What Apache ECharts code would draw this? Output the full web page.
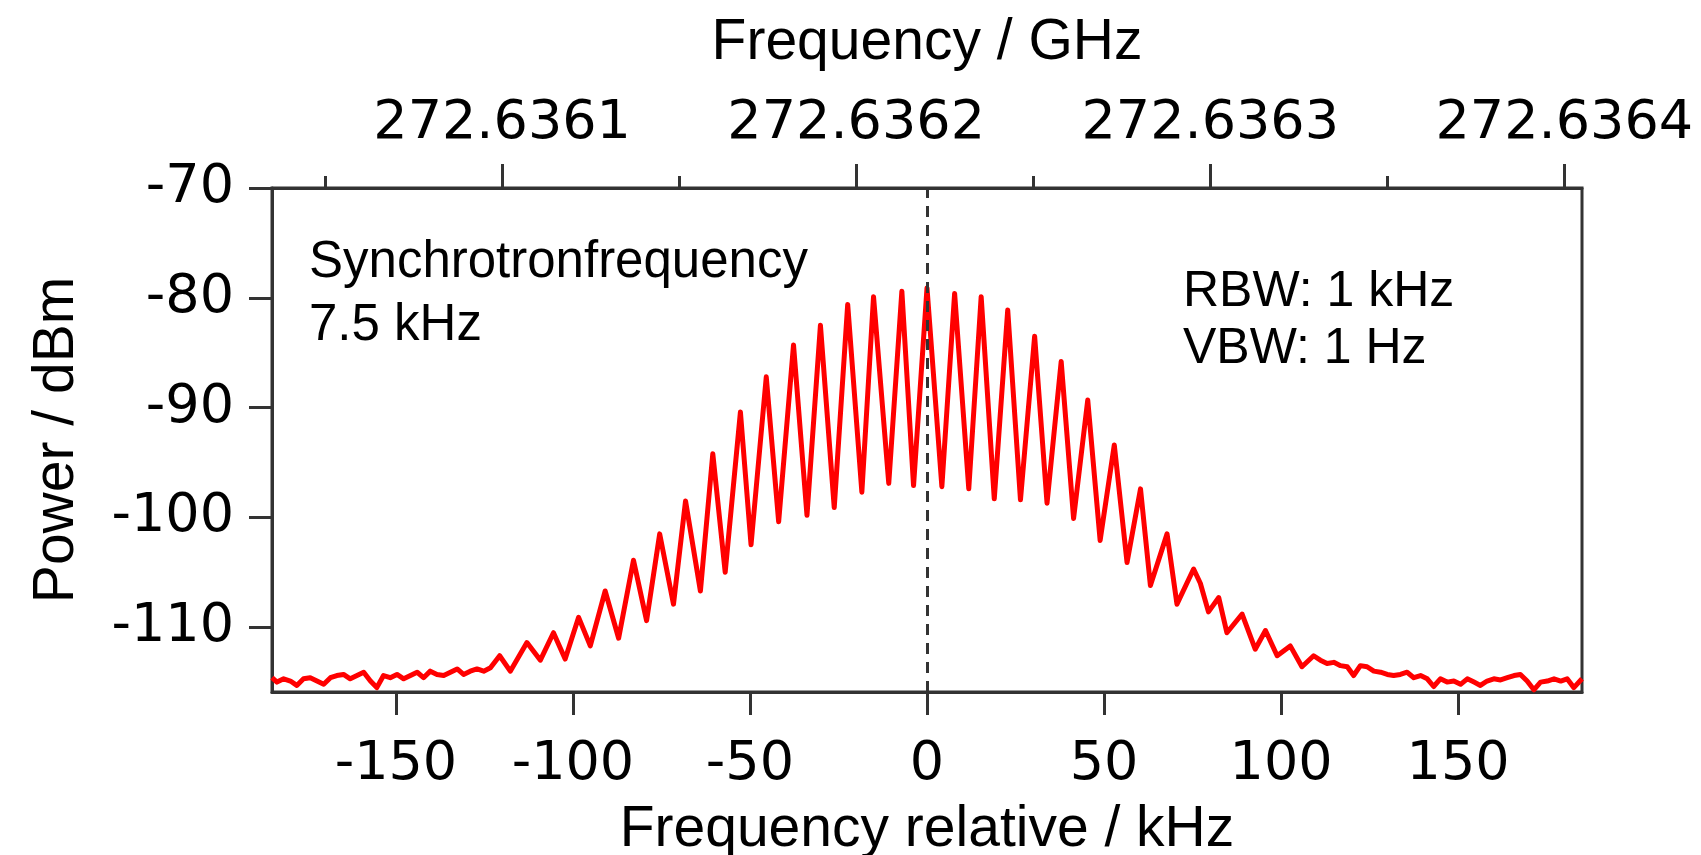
<!DOCTYPE html>
<html>
<head>
<meta charset="utf-8">
<script src="https://cdn.jsdelivr.net/npm/echarts@6.0.0/dist/echarts.min.js"></script>
<style>
  html, body { margin: 0; padding: 0; background: #fff; }
  #main { width: 1701px; height: 855px; }
</style>
</head>
<body>
<div id="main"></div>
<script>
// spectrum: frequency relative to carrier (kHz) and power (dBm)
const freqKHz = [
  -185.0, -183.6, -181.7, -179.8, -178.0, -176.1, -174.2, -172.3, -170.4, -168.5,
  -166.7, -164.8, -162.9, -161.0, -159.1, -157.2, -155.4, -153.5, -151.6, -149.7,
  -147.8, -145.9, -144.0, -142.2, -140.3, -138.4, -136.5, -134.6, -132.7, -130.9,
  -129.0, -127.1, -125.2, -123.3,
  -120.7, -117.7, -113.0, -109.2, -105.5, -102.2, -98.4, -95.1, -90.9, -87.1,
  -82.9, -79.2, -75.5, -71.6, -68.2, -64.0, -60.5, -57.0, -52.7, -49.7,
  -45.4, -41.9, -37.7, -33.9, -30.1, -26.2, -22.4, -18.4, -15.1, -10.8,
  -7.1, -3.8, 0.0, 4.2, 7.8, 11.8, 15.3, 19.0, 22.8, 26.4,
  30.4, 33.9, 37.9, 41.4, 45.4, 48.9, 52.9, 56.5, 60.3, 63.1,
  67.8, 70.6, 75.3, 77.2, 79.5, 82.4, 84.7, 89.0, 92.7, 95.6,
  98.9, 102.6, 105.9, 109.2,
  111.1, 113.0, 114.9, 116.8, 118.7, 120.5, 122.4, 124.3, 126.2, 128.1,
  130.0, 131.8, 133.7, 135.6, 137.5, 139.4, 141.3, 143.1, 145.0, 146.9,
  148.8, 150.7, 152.6, 154.5, 156.3, 158.2, 160.1, 162.0, 163.9, 165.8,
  167.6, 169.5, 171.4, 173.3, 175.2, 177.1, 179.0, 180.8, 182.7, 185.0
];
const powerDbm = [
  -114.6, -115.0, -114.7, -114.9, -115.3, -114.7, -114.6, -114.9, -115.2, -114.6,
  -114.4, -114.3, -114.7, -114.4, -114.1, -114.9, -115.5, -114.4, -114.6, -114.3,
  -114.7, -114.4, -114.1, -114.6, -114.0, -114.3, -114.4, -114.1, -113.8, -114.3,
  -114.0, -113.8, -114.0, -113.7,
  -112.6, -114.0, -111.4, -113.0, -110.5, -112.9, -109.1, -111.7, -106.7, -111.0,
  -103.9, -109.4, -101.5, -107.9, -98.5, -106.7, -94.2, -105.0, -90.4, -102.5,
  -87.2, -100.4, -84.3, -99.8, -82.5, -99.1, -80.6, -97.7, -79.9, -96.9,
  -79.4, -97.1, -79.1, -97.2, -79.6, -97.4, -79.9, -98.3, -81.1, -98.4,
  -83.5, -98.7, -85.8, -100.1, -89.3, -102.1, -93.4, -104.1, -97.4, -106.2,
  -101.5, -107.9, -104.7, -106.0, -108.6, -107.3, -110.5, -108.8, -112.0, -110.3,
  -112.6, -111.7, -113.6, -112.6,
  -113.0, -113.3, -113.2, -113.5, -113.6, -114.4, -113.5, -113.6, -114.0, -114.1,
  -114.3, -114.4, -114.3, -114.1, -114.6, -114.4, -114.7, -115.4, -114.7, -115.0,
  -114.9, -115.2, -114.7, -115.0, -115.3, -114.9, -114.7, -114.8, -114.6, -114.4,
  -114.3, -114.9, -115.7, -115.0, -114.9, -114.7, -114.9, -114.7, -115.5, -114.7
];

// tick values
const relTicks = [-150, -100, -50, 0, 50, 100, 150];
const ghzTicks = [272.6361, 272.6362, 272.6363, 272.6364];
const ghzMinorTicks = [272.63605, 272.63615, 272.63625, 272.63635];
const powerTicks = [-110, -100, -90, -80, -70];

const xMin = -185, xMax = 185;
const yMin = -115.9, yMax = -70;
const centerGHz = 272.63622; // 0 kHz on the top axis

const axisColor = '#333';
const tickFont = 'DejaVu Sans';
const textFont = 'Liberation Sans';

const chart = echarts.init(document.getElementById('main'));

const option = {
  animation: false,
  backgroundColor: '#fff',
  grid: {
    left: 272,
    right: 119,
    top: 188,
    bottom: 163,
    outerBoundsMode: 'none',
    show: true,
    borderColor: axisColor,
    borderWidth: 3
  },
  xAxis: [
    {
      type: 'value',
      position: 'bottom',
      min: xMin,
      max: xMax,
      name: 'Frequency relative / kHz',
      nameLocation: 'middle',
      nameGap: 110,
      nameTextStyle: { fontFamily: textFont, fontSize: 57, color: '#000' },
      axisLine: { onZero: false, lineStyle: { color: axisColor, width: 3 } },
      axisTick: { customValues: relTicks, length: 23, lineStyle: { color: axisColor, width: 3 } },
      axisLabel: { customValues: relTicks, margin: 46, fontFamily: tickFont, fontSize: 54, color: '#000' },
      splitLine: { show: false }
    },
    {
      type: 'value',
      position: 'top',
      min: centerGHz + xMin / 1e6,
      max: centerGHz + xMax / 1e6,
      name: 'Frequency / GHz',
      nameLocation: 'middle',
      nameGap: 116,
      nameTextStyle: { fontFamily: textFont, fontSize: 57, color: '#000' },
      axisLine: { onZero: false, lineStyle: { color: axisColor, width: 3 } },
      axisTick: { customValues: ghzTicks, length: 24, lineStyle: { color: axisColor, width: 3 } },
      axisLabel: {
        customValues: ghzTicks,
        margin: 37,
        fontFamily: tickFont,
        fontSize: 54,
        color: '#000',
        formatter: (v) => v.toFixed(4)
      },
      splitLine: { show: false }
    },
    {
      // minor ticks of the top axis
      type: 'value',
      position: 'top',
      min: centerGHz + xMin / 1e6,
      max: centerGHz + xMax / 1e6,
      axisLine: { show: false, onZero: false },
      axisTick: { customValues: ghzMinorTicks, length: 12, lineStyle: { color: axisColor, width: 3 } },
      axisLabel: { show: false },
      splitLine: { show: false }
    }
  ],
  yAxis: {
    type: 'value',
    min: yMin,
    max: yMax,
    name: 'Power / dBm',
    nameLocation: 'middle',
    nameGap: 186,
    nameRotate: 90,
    nameTextStyle: { fontFamily: textFont, fontSize: 57, color: '#000' },
    axisLine: { show: true, onZero: false, lineStyle: { color: axisColor, width: 3 } },
    axisTick: { show: true, customValues: powerTicks, length: 23, lineStyle: { color: axisColor, width: 3 } },
    axisLabel: { customValues: powerTicks, margin: 38, fontFamily: tickFont, fontSize: 54, color: '#000' },
    splitLine: { show: false }
  },
  series: [
    {
      type: 'line',
      xAxisIndex: 0,
      data: freqKHz.map((f, i) => [f, powerDbm[i]]),
      showSymbol: false,
      lineStyle: { color: '#ff0000', width: 5, join: 'round' },
      markLine: {
        silent: true,
        symbol: 'none',
        label: { show: false },
        lineStyle: { color: '#333', width: 3, type: [11, 8] },
        data: [{ xAxis: 0 }]
      }
    }
  ],
  graphic: [
    {
      type: 'text',
      left: 309,
      top: 231,
      style: {
        text: 'Synchrotronfrequency\n7.5 kHz',
        fontFamily: textFont,
        fontSize: 51,
        lineHeight: 63,
        fill: '#000'
      }
    },
    {
      type: 'text',
      left: 1183,
      top: 264,
      style: {
        text: 'RBW: 1 kHz\nVBW: 1 Hz',
        fontFamily: textFont,
        fontSize: 50,
        lineHeight: 57,
        fill: '#000'
      }
    }
  ]
};

chart.setOption(option);
</script>
</body>
</html>
